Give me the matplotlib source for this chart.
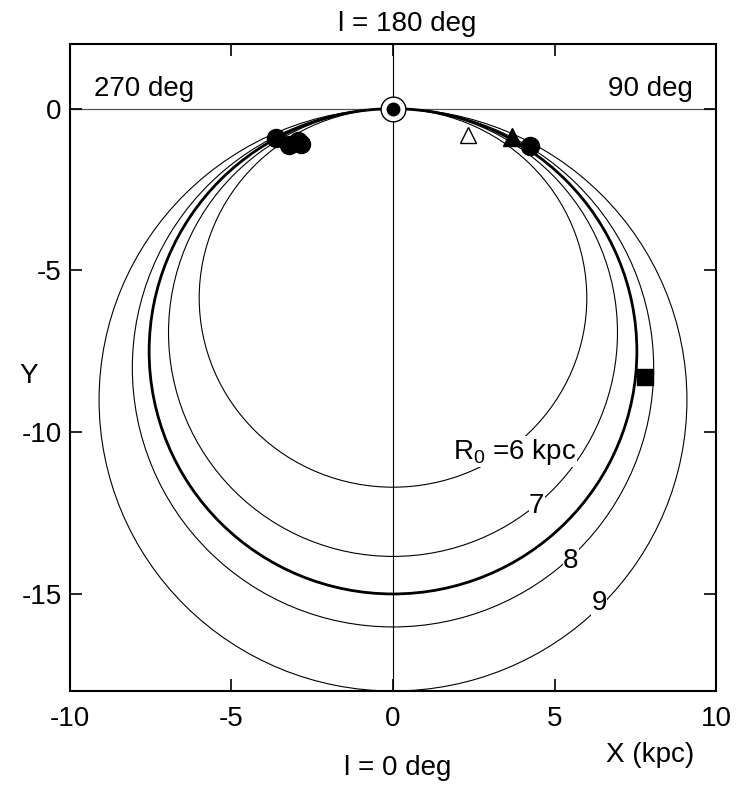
import matplotlib
matplotlib.use("Agg")
import matplotlib.pyplot as plt
from matplotlib.patches import Ellipse

plt.rcParams['font.family'] = ['Liberation Sans', 'DejaVu Sans']
plt.rcParams['mathtext.fontset'] = 'custom'
plt.rcParams['mathtext.rm'] = 'Liberation Sans'
plt.rcParams['axes.unicode_minus'] = False

# curves: half-width and depth (kpc)
curve_halfwidth = [6.0, 6.95, 7.55, 8.07, 9.1]
curve_depth = [11.7, 13.84, 15.0, 16.02, 18.0]
curve_width = [0.8, 0.8, 2.0, 0.8, 0.8]

# inline labels on the curves
label_text = ["R$_\\mathrm{0}$ =6 kpc", "7", "8", "9"]
label_x = [1.86, 4.45, 5.5, 6.38]
label_y = [-10.82, -12.29, -13.99, -15.28]

# sources
circle_x = [-3.62, -3.21, -2.93, -2.85, 4.24]
circle_y = [-0.9, -1.11, -1.01, -1.08, -1.14]
tri_x, tri_y = [3.67], [-0.86]
open_tri_x, open_tri_y = [2.33], [-0.82]
square_x, square_y = [7.8], [-8.3]
sun_x, sun_y = [0.0], [0.0]

FS = 20

fig = plt.figure(figsize=(7.36, 7.85), dpi=100)
ax = fig.add_axes([70 / 736, 1 - 691 / 785, 646 / 736, 647 / 785])

ax.axhline(0, color='#555555', lw=0.9, zorder=1)
ax.axvline(0, color='black', lw=0.8, zorder=1)

for a, d, w in zip(curve_halfwidth, curve_depth, curve_width):
    ax.add_patch(Ellipse((0, -d / 2), 2 * a, d, fill=False, ec='black', lw=w, zorder=2))

for i, (t, x, y) in enumerate(zip(label_text, label_x, label_y)):
    if i == 0:
        ax.text(x, y, t, fontsize=FS, ha='left', va='baseline', zorder=3,
                bbox=dict(fc='white', ec='none', pad=0.3))
    else:
        ax.text(x, y, t, fontsize=FS, ha='center', va='center', zorder=3,
                bbox=dict(fc='white', ec='none', pad=0.3))

ax.plot(circle_x, circle_y, 'o', color='black', ms=13, zorder=5)
ax.plot(tri_x, tri_y, '^', color='black', ms=13, zorder=5)
ax.plot(open_tri_x, open_tri_y, '^', mfc='white', mec='black', mew=1.0, ms=11.5, zorder=5)
ax.plot(square_x, square_y, 's', color='black', ms=12, zorder=5)
ax.plot(sun_x, sun_y, 'o', mfc='white', mec='black', mew=1.0, ms=17.8, zorder=5)
ax.plot(sun_x, sun_y, 'o', color='black', ms=9, zorder=6)

ax.set_xlim(-10, 10)
ax.set_ylim(-18, 2)
ax.set_xticks([-10, -5, 0, 5, 10])
ax.set_yticks([0, -5, -10, -15])
ax.tick_params(direction='in', length=8.6, width=1.2, labelsize=FS,
               top=True, right=True, pad=6)
ax.tick_params(axis='x', pad=11)
for s in ax.spines.values():
    s.set_linewidth(1.5)

ax.text(-9.25, 0.4, "270 deg", fontsize=FS, ha='left', va='baseline')
ax.text(9.29, 0.4, "90 deg", fontsize=FS, ha='right', va='baseline')

fig.text(407 / 736, 1 - 31 / 785, "l = 180 deg", fontsize=FS, ha='center', va='baseline')
fig.text(398 / 736, 1 - 775 / 785, "l = 0 deg", fontsize=FS, ha='center', va='baseline')
fig.text(650 / 736, 1 - 762 / 785, "X (kpc)", fontsize=FS, ha='center', va='baseline')
fig.text(29 / 736, 1 - 376 / 785, "Y", fontsize=FS, ha='center', va='center')

fig.savefig("out.png", dpi=100)
